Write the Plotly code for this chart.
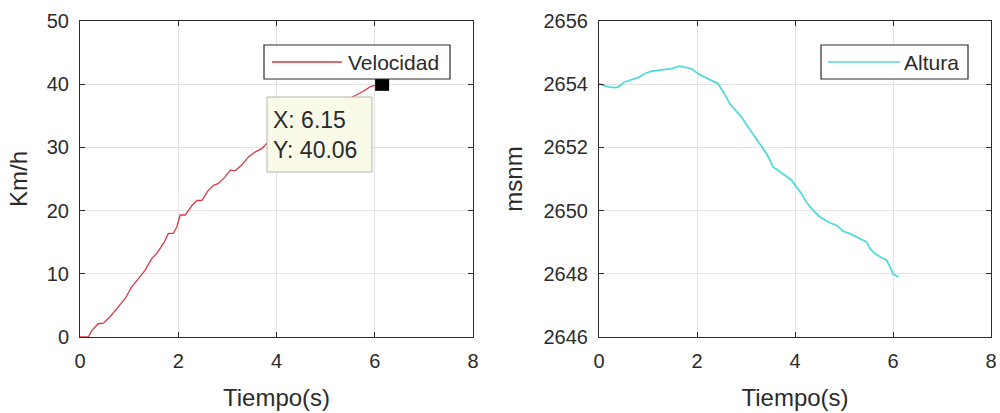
import plotly.graph_objects as go

# ---- data ----
t_vel = [0, 0.17, 0.24, 0.37, 0.48, 0.61, 0.75, 0.92, 1.05, 1.22, 1.32, 1.46, 1.56, 1.70, 1.80, 1.90,
         1.97, 2.04, 2.14, 2.28, 2.38, 2.48, 2.61, 2.72, 2.82, 2.95, 3.06, 3.16, 3.29, 3.43, 3.57,
         3.70, 3.80, 4.20, 4.60, 5.00, 5.30, 5.60, 5.75, 5.91, 6.15]
velocidad = [0, 0, 1.0, 2.1, 2.2, 3.2, 4.5, 6.1, 7.9, 9.5, 10.5, 12.4, 13.2, 14.8, 16.4, 16.4,
             17.4, 19.3, 19.3, 20.8, 21.6, 21.6, 23.2, 24.0, 24.3, 25.3, 26.4, 26.3, 27.2, 28.5, 29.3,
             29.8, 30.6, 32.4, 34.2, 35.8, 37.0, 38.2, 38.8, 39.6, 40.06]

t_alt = [0, 0.15, 0.29, 0.39, 0.52, 0.66, 0.80, 0.93, 1.07, 1.20, 1.34, 1.48, 1.65, 1.75, 1.89,
         2.02, 2.16, 2.29, 2.43, 2.50, 2.60, 2.67, 2.80, 2.91, 3.04, 3.18, 3.32, 3.42, 3.49, 3.55,
         3.66, 3.79, 3.93, 4.03, 4.13, 4.23, 4.37, 4.51, 4.68, 4.85, 4.98, 5.12, 5.29, 5.46, 5.53,
         5.63, 5.77, 5.87, 5.94, 6.00, 6.11]
altura = [2654.02, 2653.93, 2653.89, 2653.91, 2654.07, 2654.14, 2654.21, 2654.33, 2654.41, 2654.44,
          2654.46, 2654.49, 2654.57, 2654.54, 2654.49, 2654.33, 2654.21, 2654.12, 2654.02, 2653.86,
          2653.59, 2653.38, 2653.17, 2652.96, 2652.65, 2652.33, 2652.01, 2651.80, 2651.59, 2651.38,
          2651.27, 2651.12, 2650.96, 2650.75, 2650.54, 2650.27, 2650.01, 2649.80, 2649.64, 2649.53,
          2649.35, 2649.27, 2649.14, 2649.01, 2648.80, 2648.64, 2648.51, 2648.43, 2648.22, 2648.00,
          2647.90]

tip_x = [6.15]
tip_y = [40.06]

x_ticks = [0, 2, 4, 6, 8]
vel_ticks = [0, 10, 20, 30, 40, 50]
alt_ticks = [2646, 2648, 2650, 2652, 2654, 2656]

# ---- styling ----
W, H = 1000, 413
FONT = "Liberation Sans, Arial, sans-serif"
TXT = "#2b2b2b"
RED = "#d63a46"
CYAN = "#55d9d9"

def px(x):
    return x / W

def py(y):
    return 1 - y / H

fig = go.Figure()
fig.add_trace(go.Scatter(x=t_vel, y=velocidad, mode="lines", name="Velocidad",
                         line=dict(color=RED, width=1.3), xaxis="x", yaxis="y", showlegend=False))
fig.add_trace(go.Scatter(x=tip_x, y=tip_y, mode="markers",
                         marker=dict(symbol="square", size=14, color="black"),
                         xaxis="x", yaxis="y", showlegend=False))
fig.add_trace(go.Scatter(x=t_alt, y=altura, mode="lines", name="Altura",
                         line=dict(color=CYAN, width=1.8), xaxis="x2", yaxis="y2", showlegend=False))

axis_common = dict(showline=True, linecolor=TXT, linewidth=1, mirror="ticks",
                   ticks="inside", ticklen=5, tickcolor=TXT, showgrid=True,
                   gridcolor="#e3e3e3", gridwidth=1, zeroline=False,
                   tickfont=dict(family=FONT, size=20, color=TXT), automargin=False,
                   ticklabelstandoff=6)

TFONT = dict(family=FONT, size=24, color=TXT)
ydom = [py(337), py(21)]
fig.update_layout(
    width=W, height=H, margin=dict(l=0, r=0, t=0, b=0),
    paper_bgcolor="white", plot_bgcolor="white",
    xaxis=dict(domain=[px(80), px(473)], range=[0, 8], tickvals=x_ticks, anchor="y",
               title=dict(text="Tiempo(s)", font=TFONT, standoff=18),
               **axis_common),
    yaxis=dict(domain=ydom, range=[0, 50], tickvals=vel_ticks, anchor="x",
               title=dict(text="Km/h", font=TFONT, standoff=12),
               **axis_common),
    xaxis2=dict(domain=[px(599), px(991)], range=[0, 8], tickvals=x_ticks, anchor="y2",
                title=dict(text="Tiempo(s)", font=TFONT, standoff=18),
                **axis_common),
    yaxis2=dict(domain=ydom, range=[2646, 2656], tickvals=alt_ticks, anchor="x2",
                title=dict(text="msnm", font=TFONT, standoff=14),
                **axis_common),
)

shapes = []
annotations = []

# manual legends (MATLAB style)
def legend_box(x0, x1, lx0, lx1, color, label, tx):
    shapes.append(dict(type="rect", xref="paper", yref="paper", x0=px(x0), x1=px(x1),
                       y0=py(79), y1=py(45), line=dict(color=TXT, width=1.2),
                       fillcolor="white", layer="above"))
    shapes.append(dict(type="line", xref="paper", yref="paper", x0=px(lx0), x1=px(lx1),
                       y0=py(62), y1=py(62), line=dict(color=color, width=1.6), layer="above"))
    annotations.append(dict(xref="paper", yref="paper", x=px(tx), y=py(62), text=label,
                            showarrow=False, xanchor="left", yanchor="middle",
                            font=dict(family=FONT, size=21, color=TXT)))

legend_box(264, 450, 272, 342, RED, "Velocidad", 346)
legend_box(821, 968, 828, 900, CYAN, "Altura", 902)

# datatip box
shapes.append(dict(type="rect", xref="paper", yref="paper", x0=px(267), x1=px(372),
                   y0=py(172), y1=py(97), line=dict(color="#b4b4a8", width=1),
                   fillcolor="#fafae8", layer="above"))
annotations.append(dict(xref="paper", yref="paper", x=px(271), y=py(120),
                        text=f"X: {tip_x[0]:.2f}", showarrow=False, xanchor="left", yanchor="middle",
                        font=dict(family=FONT, size=23, color=TXT)))
annotations.append(dict(xref="paper", yref="paper", x=px(271), y=py(150),
                        text=f"Y: {tip_y[0]:.2f}", showarrow=False, xanchor="left", yanchor="middle",
                        font=dict(family=FONT, size=23, color=TXT)))

fig.update_layout(shapes=shapes, annotations=annotations)
fig.write_html("out.html")
